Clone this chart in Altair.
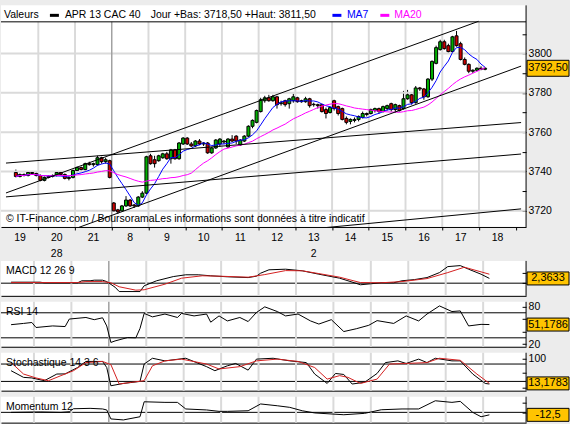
import json
import altair as alt
import pandas as pd

FONT = "Liberation Sans"
FS = 10.5
GREEN = "#00b000"
RED = "#cc0000"
SIGRED = "#d42020"
GRID = "#dadada"
SEP = "#a0a0a0"
BOX = "#ffc400"
BG = "#ececec"

# ---------------- data ----------------
day_labels = ["19", "20", "21", "8", "9", "10", "11", "12", "13", "14", "15", "16", "17", "18"]
week_labels = ["28", "2"]
week_sessions = [1, 8]
month_break = 3
first_slot = 3
slots_per_day = 9

opens = [3739.5, 3737.5, 3738.5, 3738, 3739.5, 3739,
         3738, 3735.5, 3737, 3737.5, 3738, 3739.5, 3738.5, 3736.5, 3737,
         3740.5, 3742, 3741, 3744, 3743.5, 3743.5, 3747, 3745, 3745.5,
         3724, 3720.5, 3720, 3722.5, 3725.5, 3723, 3722.5, 3727, 3729,
         3748, 3746, 3745.5, 3747, 3749, 3746.5, 3751, 3746.5, 3754,
         3757, 3754, 3753, 3755.5, 3754, 3754.5, 3749.5, 3752, 3754,
         3755, 3752.5, 3756.5, 3758, 3753.5, 3755.5, 3758, 3763, 3765,
         3770.5, 3776, 3777.5, 3776, 3778, 3774.5, 3776, 3774.5, 3776,
         3777.5, 3775.5, 3775.5, 3777, 3774, 3774, 3774, 3771.5, 3770,
         3776, 3773, 3772, 3767, 3765.5, 3766, 3766.5, 3767.5, 3769.5,
         3769.5, 3771, 3772, 3770.5, 3772, 3774.5, 3771.5, 3773.5, 3772,
         3777, 3779, 3775, 3782.5, 3782, 3778, 3787, 3795, 3802,
         3806, 3804, 3801, 3809, 3805, 3797, 3794.5, 3791, 3791.5,
         3792.5, 3792]
highs = [3741, 3739, 3739, 3740, 3740, 3739.5,
         3738.5, 3737.5, 3738, 3738.5, 3740, 3740, 3739, 3737.5, 3741,
         3742.5, 3742.5, 3744.5, 3745, 3744.5, 3748, 3747.5, 3747, 3746,
         3724.5, 3721, 3723, 3727.5, 3726, 3723.5, 3727.5, 3730, 3748,
         3749, 3748, 3748.5, 3749.5, 3750, 3751.5, 3751.5, 3755, 3757.5,
         3757.5, 3755, 3756, 3756.5, 3755, 3755, 3752.5, 3756.5, 3757,
         3756, 3757, 3758.5, 3758.5, 3756.5, 3758.5, 3763.5, 3766.5, 3771.5,
         3777.5, 3778.5, 3779, 3779, 3778.5, 3776, 3776.5, 3777.5, 3779.5,
         3778, 3776.5, 3778, 3777.5, 3775, 3774.5, 3774.5, 3772.5, 3773,
         3776.5, 3773.5, 3772.5, 3768, 3767, 3767.5, 3768.5, 3770.5, 3770,
         3772, 3772.5, 3772.5, 3773.5, 3774, 3775, 3774.5, 3774, 3781,
         3781.5, 3779.5, 3783.5, 3783, 3782.5, 3787.5, 3796.5, 3804, 3807,
         3807, 3805, 3809, 3811.5, 3806, 3798, 3795, 3792, 3793,
         3793.5, 3793]
lows = [3737, 3737, 3737.5, 3737.5, 3738.5, 3737.5,
        3735, 3735, 3736.5, 3737, 3737.5, 3738, 3736, 3735.5, 3736.5,
        3739.5, 3740.5, 3740.5, 3743, 3742.5, 3743, 3744, 3744, 3736.5,
        3719.5, 3718.5, 3719.5, 3722, 3722, 3721.5, 3722, 3726.5, 3728.5,
        3743.5, 3742, 3745, 3746.5, 3746, 3744, 3746, 3746, 3753.5,
        3753.5, 3752.5, 3752.5, 3753.5, 3753, 3749, 3749, 3751.5, 3752.5,
        3754, 3752, 3755, 3754, 3753, 3755, 3757.5, 3762, 3764.5,
        3770, 3775, 3775.5, 3775.5, 3772, 3773.5, 3773, 3772, 3775,
        3775, 3775, 3775, 3772.5, 3773, 3772, 3770, 3767, 3769.5,
        3771, 3768.5, 3766, 3764, 3764, 3765, 3765.5, 3767, 3768,
        3769, 3770, 3769.5, 3770, 3771, 3770.5, 3770, 3770.5, 3771.5,
        3776.5, 3774, 3774.5, 3781, 3776.5, 3777.5, 3786, 3794.5, 3801.5,
        3802, 3800.5, 3800.5, 3803.5, 3796.5, 3794, 3790, 3790, 3791,
        3791.5, 3791.5]
closes = [3737.5, 3738.5, 3738, 3739.5, 3739, 3738,
          3735.5, 3737, 3737.5, 3738, 3739.5, 3738.5, 3736.5, 3737, 3740.5,
          3742, 3741, 3744, 3743.5, 3744, 3747, 3745, 3746, 3737,
          3720, 3719.5, 3722.5, 3725.5, 3722.5, 3722.5, 3727, 3729, 3747.5,
          3744, 3744, 3748, 3749, 3746.5, 3751, 3746.5, 3754.5, 3757,
          3754, 3753, 3755.5, 3754, 3754.5, 3749.5, 3752, 3756, 3756.5,
          3755.5, 3756.5, 3755.5, 3755.5, 3756, 3758, 3763, 3766, 3771,
          3776.5, 3777.5, 3776, 3778, 3774, 3775, 3774, 3777, 3778,
          3775.5, 3776, 3777, 3773.5, 3774.2, 3773.5, 3770.5, 3769.5, 3772.5,
          3772, 3769.5, 3766.5, 3765, 3766.5, 3766.5, 3768, 3769.5, 3769,
          3771.5, 3772, 3770.5, 3773, 3773.5, 3771.5, 3774, 3771, 3777,
          3779, 3775, 3782.5, 3782, 3778, 3787, 3796, 3803, 3806,
          3802.5, 3801, 3808.5, 3804, 3797, 3794.5, 3791, 3791.5, 3792.5,
          3792, 3792.5]

grid_prices = [3720, 3740, 3760, 3780, 3800]
price_ticks = [3720, 3730, 3740, 3750, 3760, 3770, 3780, 3790, 3800, 3810]
grid_days = [1, 2, 4, 5, 6, 7, 8, 9, 10, 11, 12, 13]

# trend lines (start session-time, start price, end session-time, end price)
trend_x1 = [0.12, 0.12, 0.12, 1.987, 8.44]
trend_p1 = [3744.3, 3729.1, 3727.1, 3710.8, 3710.8]
trend_x2 = [14.147, 12.99, 14.147, 14.147, 14.147]
trend_p2 = [3764.9, 3816.4, 3748.9, 3793.6, 3721.0]

# indicators (hour index, value)
macd_t = [3, 10, 11, 19, 20, 22, 23, 25, 26, 28, 29, 34, 35, 38, 42, 45, 48, 51, 55, 60, 62, 63, 65,
          69, 73, 77, 82, 84, 87, 92, 95, 97, 100, 103, 106, 108, 111, 113, 116, 118]
macd_v = [0.5, 0.5, 0.17, 0.17, 1.2, 1.2, 1.5, 1.5, 0.8, -2.0, -4.2, -4.2, -1.3, 1.2, 3.3, 4.2, 4.2, 3.7,
          3.2, 2.8, 3.5, 5.0, 6.7, 7.0, 6.2, 4.5, 2.5, 1.2, -0.8, 0.2, 0.2, 1.2, 1.8, 2.8, 5.3, 8.3, 8.8,
          7.0, 4.5, 2.4]
signal_t = [3, 19, 21, 25, 27, 29, 33, 35, 40, 44, 49, 53, 60, 64, 69, 73, 77, 82, 87, 92, 97, 103,
            108, 112, 118]
signal_v = [0.3, 0.3, 0.8, 0.8, 0.2, -1.8, -3.5, -3.3, -0.5, 2.5, 3.7, 3.5, 3.0, 4.3, 6.3, 6.2, 4.8,
            3.0, 0.3, 0.2, 0.8, 2.3, 5.3, 8.0, 4.5]
rsi_t = [3, 6, 8, 9, 13, 16, 17, 21, 23, 25, 26, 27, 28, 31, 33, 34, 35, 37, 40, 43, 44, 47, 50, 51,
         53, 55, 58, 60, 62, 64, 67, 69, 72, 75, 77, 80, 83, 86, 89, 91, 95, 98, 101, 103, 106, 109,
         111, 113, 116, 118]
rsi_v = [51, 53, 54.5, 46.5, 49, 48, 60, 62.5, 59, 62, 49, 22.6, 25, 30.4, 30, 45, 69, 63.5, 68, 62.5,
         69, 65, 68, 55, 65, 57, 62.5, 56, 70.5, 79.5, 72, 65, 68, 57, 52, 59, 40, 44.5, 50, 57.5, 53,
         65, 57, 68, 81, 72, 73, 49, 51.5, 51.2]
stk_t = [3, 6, 8, 11, 14, 16, 19, 21, 25, 26, 27, 30, 34, 35, 37, 40, 45, 50, 52, 55, 57, 60, 62, 66,
         70, 74, 76, 79, 81, 83, 85, 88, 91, 93, 96, 98, 101, 103, 105, 109, 111, 114, 117, 118]
stk_v = [57, 34, 32, 22.5, 45.5, 46, 68, 89, 89, 68, 5, 13, 20, 80, 100, 91, 100, 71, 57, 74, 82, 59,
         97, 100, 91, 85, 45.5, 13, 47.5, 44, 11, 17, 47.5, 85, 91, 82, 97, 85, 100, 91, 91, 45.5, 13, 11]
std_t = [3, 6, 9, 12, 15, 18, 21, 25, 27, 29, 32, 35, 37, 40, 44, 50, 53, 58, 62, 67, 72, 76, 79, 82,
         84, 87, 91, 94, 98, 103, 106, 111, 115, 118]
std_v = [85.5, 45.5, 32, 22.5, 40, 57, 85, 89, 78, 11, 17, 22.5, 74, 91, 97, 80, 63, 71, 91, 97, 89,
         68, 28, 40, 34, 13, 28, 80, 82, 85, 100, 93, 45.5, 13.2]
mom_t = [3, 10, 15, 17, 18, 22, 25, 26, 27, 30, 34, 35, 40, 43, 45, 50, 53, 55, 60, 63, 67, 70, 73,
         76, 83, 88, 92, 97, 101, 105, 109, 111, 114, 116, 118]
mom_v = [0, 2, 0, 3, 18, 20, 17, 12, -33, -38, -22, 53, 50, 50, 17, 12, 5, 5, 8, 42, 33, 25, 8, -3,
         -12, -5, 13, 17, 17, 58, 50, 55, 0, -22, -12.5]

last_price, last_price_txt = 3792.5, "3792,50"
macd_last, macd_txt = 2.3633, "2,3633"
rsi_last, rsi_txt = 51.1786, "51,1786"
sto_last, sto_txt = 13.1783, "13,1783"
mom_last, mom_txt = -12.5, "-12,5"

watermark = "\u00a9 IT-Finance.com / BoursoramaLes informations sont donn\u00e9es \u00e0 titre indicatif"

# ---------------- layout ----------------
W = 526
H_MAIN, H_MACD, H_RSI, H_STO, H_MOM = 222, 35, 45, 38, 26
HEADER_H = 16.5
XDOM = [0.12, 14.147]
MAIN_DOM = [3711.8, 3824.5]
MACD_DOM = [-6.35, 11.15]
RSI_DOM = [15.7, 87.5]
STO_DOM = [-12.0, 119.0]
MOM_DOM = [-51.5, 78.5]
PX_PER_DAY = W / (XDOM[1] - XDOM[0])
HALF_DAY_PX = PX_PER_DAY / 2


def xs(field, axis):
    return alt.X(field, type="quantitative",
                 scale=alt.Scale(domain=XDOM, nice=False, zero=False), axis=axis)


def ys(field, dom, axis):
    return alt.Y(field, type="quantitative",
                 scale=alt.Scale(domain=dom, nice=False, zero=False), axis=axis)


def series_df(ts, vs):
    df = pd.DataFrame({"t": ts, "v": vs})
    df["x"] = (df["t"] + 0.5) / slots_per_day
    return df


def one(**kw):
    return pd.DataFrame({k: [v] for k, v in kw.items()})


def right_axis(values, labelled):
    kw = dict(orient="right", offset=-4, values=values, format="d", domain=False, grid=False,
              tickSize=4, tickColor="black", labelPadding=2, labelOverlap=False, title=None)
    if labelled:
        kw["labelExpr"] = f"indexof({json.dumps(labelled)}, datum.value) >= 0 ? datum.label : ''"
    else:
        kw["labels"] = False
    return alt.Axis(**kw)


def value_box(height, dom, value, text, half_px, ay):
    ppu = height / (dom[1] - dom[0])
    half = half_px / ppu
    df = one(lo=value - half, hi=value + half, v=value, s=text)
    rect = alt.Chart(df).mark_rect(fill=BOX, stroke="black", strokeWidth=1).encode(
        x=alt.value(W + 1), x2=alt.value(W + 43), y=ys("lo", dom, ay), y2="hi")
    txt = alt.Chart(df).mark_text(font=FONT, fontSize=FS + 0.5, color="black",
                                  align="center", baseline="middle").encode(
        x=alt.value(W + 22), y=ys("v", dom, ay), text="s:N")
    return [rect, txt]


def vbands(days, color, px_w, ax, top, bottom):
    half = px_w / 2 / PX_PER_DAY
    return alt.Chart(pd.DataFrame({"d": days})).transform_calculate(
        a=f"datum.d - {half}", b=f"datum.d + {half}").mark_rect(color=color).encode(
        x=xs("a", ax), x2="b", y=alt.value(top), y2=alt.value(bottom))


def hbands(levels, color, px_w, dom, ay, height):
    half = px_w / 2 / (height / (dom[1] - dom[0]))
    return alt.Chart(pd.DataFrame({"p": levels})).transform_calculate(
        a=f"datum.p - {half}", b=f"datum.p + {half}").mark_rect(color=color).encode(
        y=ys("a", dom, ay), y2="b", x=alt.value(0), x2=alt.value(W))


# ---------------- main price panel ----------------
candles = pd.DataFrame({"open": opens, "high": highs, "low": lows, "close": closes})
candles["t"] = range(first_slot, first_slot + len(closes))
candles["x"] = (candles["t"] + 0.5) / slots_per_day
candles["dir"] = ["up" if c >= o else "down" for o, c in zip(opens, closes)]

MX = alt.Axis(values=list(range(1, len(day_labels) + 1)),
              labelExpr=f"{json.dumps(day_labels)}[datum.value - 1]",
              labelOffset=-HALF_DAY_PX, tickSize=3, tickColor="black",
              domainColor="black", labelPadding=3, labelOverlap=False,
              labelFlush=False, grid=False, title=None)
MY = right_axis(price_ticks, grid_prices)

hgrid = hbands(grid_prices, GRID, 2, MAIN_DOM, MY, H_MAIN)
vgrid = vbands(grid_days, GRID, 2, MX, HEADER_H, H_MAIN)
sep = vbands([month_break], SEP, 1.5, MX, HEADER_H, H_MAIN)

wicks = alt.Chart(candles).mark_rule(color="black", strokeWidth=1).encode(
    x=xs("x", MX), y=ys("low", MAIN_DOM, MY), y2="high")
bodies = alt.Chart(candles).mark_bar(width=3, stroke="black", strokeWidth=1).encode(
    x=xs("x", MX), y=ys("open", MAIN_DOM, MY), y2="close",
    color=alt.Color("dir:N", scale=alt.Scale(domain=["up", "down"], range=[GREEN, RED]), legend=None))
ma7 = alt.Chart(candles).transform_window(
    ma="mean(close)", frame=[-6, 0], sort=[alt.SortField("t")]).mark_line(
    color="#0000ff", strokeWidth=1).encode(x=xs("x", MX), y=ys("ma", MAIN_DOM, MY))
ma20 = alt.Chart(candles).transform_window(
    ma="mean(close)", frame=[-19, 0], sort=[alt.SortField("t")]).mark_line(
    color="#ff00ff", strokeWidth=1).encode(x=xs("x", MX), y=ys("ma", MAIN_DOM, MY))
trends = alt.Chart(pd.DataFrame({"x1": trend_x1, "p1": trend_p1, "x2": trend_x2, "p2": trend_p2})).mark_rule(
    color="black", strokeWidth=1, clip=True).encode(
    x=xs("x1", MX), y=ys("p1", MAIN_DOM, MY), x2="x2", y2="p2")
wm = alt.Chart(one(s=watermark)).mark_text(font=FONT, fontSize=FS, color="black", align="left",
                                           baseline="alphabetic").encode(
    x=alt.value(5), y=alt.value(217), text="s:N")
weeks = alt.Chart(pd.DataFrame({"d": [s + 0.5 for s in week_sessions], "s": week_labels})).mark_text(
    font=FONT, fontSize=FS, color="black", align="center", baseline="middle").encode(
    x=xs("d", MX), y=alt.value(H_MAIN + 27.5), text="s:N")

header_line = alt.Chart(one(a=0)).mark_rule(color="black", strokeWidth=1).encode(
    x=alt.value(0), x2=alt.value(W), y=alt.value(HEADER_H))


def htext(s, x, color="black"):
    return alt.Chart(one(s=s)).mark_text(font=FONT, fontSize=FS, color=color, align="left",
                                         baseline="alphabetic").encode(
        x=alt.value(x), y=alt.value(12.5), text="s:N")


def hkey(x, color):
    return alt.Chart(one(a=0)).mark_rect(color=color).encode(
        x=alt.value(x), x2=alt.value(x + 9), y=alt.value(8.5), y2=alt.value(11.5))


header = [htext("Valeurs", 3), hkey(49, "black"), htext("APR 13 CAC 40", 64),
          htext("Jour +Bas: 3718,50 +Haut: 3811,50", 150),
          hkey(332, "#0000ff"), htext("MA7", 346.5, "#0000ff"),
          hkey(380, "#ff00ff"), htext("MA20", 394, "#ff00ff")]

main_border = alt.Chart(one(a=0)).mark_rule(color="black", strokeWidth=1).encode(
    x=alt.value(W), y=alt.value(0), y2=alt.value(H_MAIN))

main = alt.layer(
    wicks, hgrid, vgrid, sep, bodies, ma7, ma20, trends, wm, weeks, header_line, *header,
    main_border, *value_box(H_MAIN, MAIN_DOM, last_price, last_price_txt, 8, MY)
).properties(width=W, height=H_MAIN)


# ---------------- indicator panels ----------------
def panel(height, dom, series, levels, title, box_value, box_text, tick_values, labelled):
    PX = alt.Axis(labels=False, ticks=False, domain=True, domainColor="black", grid=False, title=None)
    PY = right_axis(tick_values, labelled)
    vg = vbands(grid_days, GRID, 2, PX, 0, height)
    sp = vbands([month_break], SEP, 1.5, PX, 0, height)
    lv = alt.Chart(pd.DataFrame({"lv": levels})).mark_rule(color="black", strokeWidth=1).encode(
        y=ys("lv", dom, PY))
    lines = [alt.Chart(df).mark_line(color=c, strokeWidth=1).encode(x=xs("x", PX), y=ys("v", dom, PY))
             for df, c in series]
    lab = alt.Chart(one(s=title)).mark_text(font=FONT, fontSize=FS, color="black", align="left",
                                            baseline="middle").encode(
        x=alt.value(5), y=alt.value(10), text="s:N")
    border = alt.Chart(one(a=0)).mark_rule(color="black", strokeWidth=1).encode(
        x=alt.value(W), y=alt.value(0), y2=alt.value(height))
    return alt.layer(lv, vg, sp, *lines, lab, border,
                     *value_box(height, dom, box_value, box_text, 6.5, PY)).properties(width=W, height=height)


macd = panel(H_MACD, MACD_DOM,
             [(series_df(macd_t, macd_v), "black"), (series_df(signal_t, signal_v), SIGRED)],
             [0], "MACD 12 26 9", macd_last, macd_txt, [5, 0], [])
rsi = panel(H_RSI, RSI_DOM, [(series_df(rsi_t, rsi_v), "black")],
            [70, 30], "RSI 14", rsi_last, rsi_txt, [80, 60, 40, 20], [80, 20])
sto = panel(H_STO, STO_DOM,
            [(series_df(stk_t, stk_v), "black"), (series_df(std_t, std_v), SIGRED)],
            [80, 20], "Stochastique 14 3 6", sto_last, sto_txt, [100, 50, 0], [100])
mom = panel(H_MOM, MOM_DOM, [(series_df(mom_t, mom_v), "black")],
            [0], "Momentum 12", mom_last, mom_txt, [50, 0], [])

lower = alt.vconcat(macd, rsi, sto, mom, spacing=6, bounds="flush")
chart = alt.vconcat(main, lower, spacing=34, bounds="flush").properties(
    padding={"left": 0, "top": 4, "right": 0, "bottom": 0}
).configure(background=BG, font=FONT).configure_view(stroke=None, fill="white").configure_axis(
    labelFont=FONT, labelFontSize=FS, labelColor="black")

chart.save("out.html", embed_options={"renderer": "svg", "actions": False})
